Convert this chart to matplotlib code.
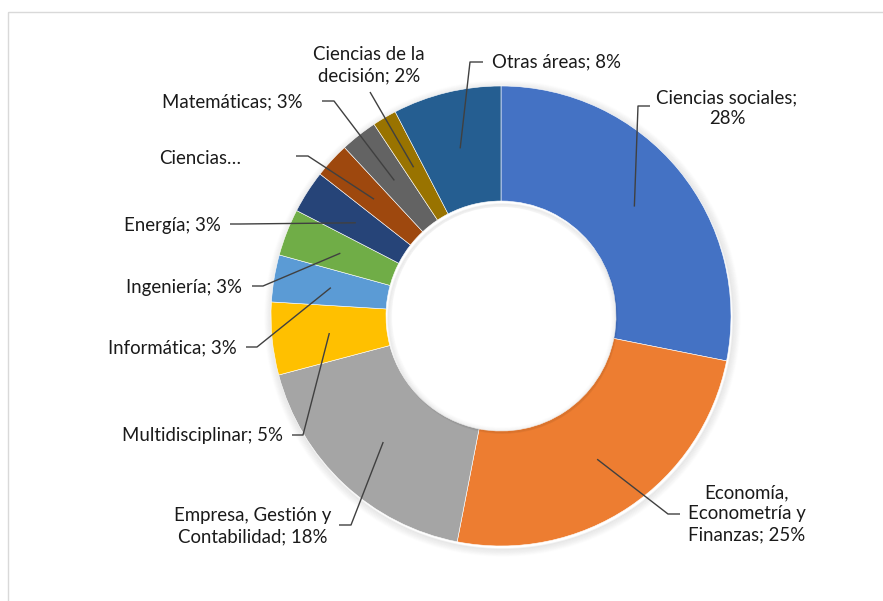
import numpy as np
import matplotlib
matplotlib.use("Agg")
import matplotlib.pyplot as plt
from matplotlib.patches import Circle, Rectangle

plt.rcParams['font.family'] = ['Lato', 'DejaVu Sans']

# ---- data (clockwise from 12 o'clock) ----
categories = ["Ciencias sociales", "Economía, Econometría y Finanzas",
              "Empresa, Gestión y Contabilidad", "Multidisciplinar",
              "Informática", "Ingeniería", "Energía", "Ciencias…",
              "Matemáticas", "Ciencias de la decisión", "Otras áreas"]
values = [28.1, 24.9, 17.8, 5.1, 3.3, 3.3, 3.0, 2.5, 2.6, 1.7, 7.6]
label_texts = ["Ciencias sociales;\n28%", "Economía,\nEconometría y\nFinanzas; 25%",
               "Empresa, Gestión y\nContabilidad; 18%", "Multidisciplinar; 5%",
               "Informática; 3%", "Ingeniería; 3%", "Energía; 3%", "Ciencias…",
               "Matemáticas; 3%", "Ciencias de la\ndecisión; 2%", "Otras áreas; 8%"]
colors = ["#4472C4", "#ED7D31", "#A5A5A5", "#FFC000", "#5B9BD5", "#70AD47",
          "#264478", "#9E480E", "#636363", "#997300", "#255E91"]

# ---- layout (pixel coordinates, y downward) ----
W, H = 883, 601
cx, cy, R = 501, 316, 230
ring_w = 115
# text anchor (x, y, ha), elbow point, horizontal end
layout = [
    ((727, 108, 'center'), (638, 106), (650, 106)),
    ((747, 514, 'center'), (668, 514), (680, 514)),
    ((253, 526, 'center'), (351, 525), (339, 525)),
    ((283, 436, 'right'), (303, 435), (292, 435)),
    ((237, 348, 'right'), (257, 347), (246, 347)),
    ((242, 287, 'right'), (263, 286), (252, 286)),
    ((221, 226, 'right'), (240, 224), (230, 224)),
    ((241, 158, 'right'), (308, 156), (296, 156)),
    ((303, 102, 'right'), (334, 101), (322, 101)),
    ((369, 65, 'center'), (370, 92), (370, 92)),
    ((492, 62, 'left'), (470, 62), (483, 62)),
]

fig = plt.figure(figsize=(W / 100, H / 100), dpi=100)
ax = fig.add_axes([0, 0, 1, 1])

# frame
ax.add_patch(Rectangle((8, 12), W + 10, H + 10, fill=False, ec="#D9D9D9", lw=1.0, zorder=0))

# soft shadow around donut
for i in range(8):
    ax.add_patch(Circle((cx + 1.5, cy + 2.5), R + 0.5 + i, fill=False,
                        ec="black", lw=1.2, alpha=0.06 * (1 - i / 8), zorder=1))

wedges, _ = ax.pie(values, colors=colors, radius=R, center=(cx, cy),
                   startangle=-90, counterclock=True,
                   wedgeprops=dict(width=ring_w, edgecolor="white", linewidth=0.4),
                   frame=True)
for w in wedges:
    w.set_zorder(2)

# inner shadow in hole
for i in range(6):
    ax.add_patch(Circle((cx + 1.5, cy + 2.5), R - ring_w - 0.5 - i, fill=False,
                        ec="black", lw=1.2, alpha=0.05 * (1 - i / 6), zorder=3))
ax.add_patch(Circle((cx, cy), R - ring_w - 6, fc="white", ec="none", zorder=3))

rm = R - ring_w / 2
for w, txt, ((tx, ty, ha), (ex, ey), (hx, hy)) in zip(wedges, label_texts, layout):
    th = np.deg2rad((w.theta1 + w.theta2) / 2)
    sx, sy = cx + rm * np.cos(th), cy + rm * np.sin(th)
    ax.plot([sx, ex, hx], [sy, ey, hy], color="#404040", lw=1.0,
            solid_capstyle="butt", zorder=5)
    ax.text(tx, ty, txt, ha=ha, va="center", fontsize=13.4, color="#1a1a1a",
            linespacing=1.3, multialignment="center", zorder=6)

ax.set_xlim(0, W)
ax.set_ylim(H, 0)
ax.set_aspect("equal")
ax.axis("off")
fig.savefig("out.png", dpi=100)
